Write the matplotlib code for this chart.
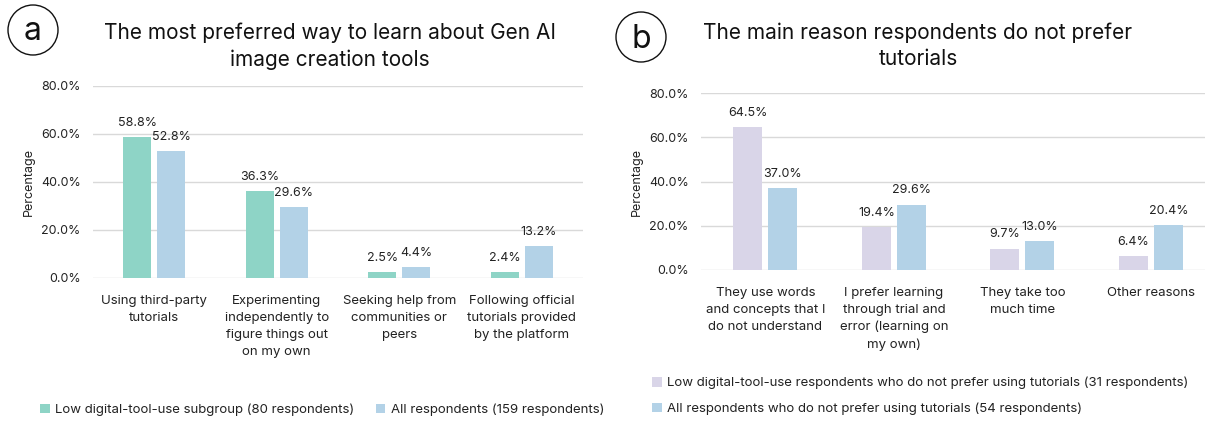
import matplotlib
matplotlib.use("Agg")
import matplotlib.pyplot as plt
import numpy as np
from matplotlib.patches import Ellipse

plt.rcParams['font.family'] = ['Inter', 'DejaVu Sans']

# ---- data ----
cats_a = ["Using third-party\ntutorials",
          "Experimenting\nindependently to\nfigure things out\non my own",
          "Seeking help from\ncommunities or\npeers",
          "Following official\ntutorials provided\nby the platform"]
low_a = [58.8, 36.3, 2.5, 2.4]
all_a = [52.8, 29.6, 4.4, 13.2]
label_low_a = "Low digital-tool-use subgroup (80 respondents)"
label_all_a = "All respondents (159 respondents)"
title_a = "The most preferred way to learn about Gen AI\nimage creation tools"

cats_b = ["They use words\nand concepts that I\ndo not understand",
          "I prefer learning\nthrough trial and\nerror (learning on\nmy own)",
          "They take too\nmuch time",
          "Other reasons"]
low_b = [64.5, 19.4, 9.7, 6.4]
all_b = [37.0, 29.6, 13.0, 20.4]
label_low_b = "Low digital-tool-use respondents who do not prefer using tutorials (31 respondents)"
label_all_b = "All respondents who do not prefer using tutorials (54 respondents)"
title_b = "The main reason respondents do not prefer\ntutorials"

yticks = [0, 20, 40, 60, 80]

C_GREEN = "#8ed4c6"
C_BLUE = "#b3d2e7"
C_LAV = "#d9d5e8"
C_TXT = "#222222"
C_GRID = "#d9d9d9"

W, H = 1210, 421
fig = plt.figure(figsize=(W / 100, H / 100), dpi=100)


def px_axes(left, right, y0, y80):
    return fig.add_axes([left / W, (H - y0) / H, (right - left) / W, (y0 - y80) / H])


def draw(ax, cats, v1, v2, c1, c2, l1, l2, bw, off, xmax):
    x = np.arange(len(cats))
    b1 = ax.bar(x - off, v1, bw, color=c1, label=l1, zorder=3)
    b2 = ax.bar(x + off, v2, bw, color=c2, label=l2, zorder=3)
    for bars, vals in ((b1, v1), (b2, v2)):
        for r, v in zip(bars, vals):
            ax.annotate(f"{v:.1f}%", (r.get_x() + r.get_width() / 2, v),
                        xytext=(0, 6), textcoords="offset points",
                        ha="center", va="bottom", fontsize=9, color=C_TXT)
    ax.set_ylim(0, 80)
    ax.set_xlim(-0.5, xmax)
    ax.set_yticks(yticks)
    ax.set_yticklabels([f"{t:.1f}%" for t in yticks], fontsize=9, color=C_TXT)
    ax.set_xticks(x)
    ax.set_xticklabels(cats, fontsize=9.5, color=C_TXT, linespacing=1.55, va="top")
    ax.tick_params(axis="both", length=0)
    ax.tick_params(axis="x", pad=12)
    ax.tick_params(axis="y", pad=9)
    ax.grid(axis="y", color=C_GRID, linewidth=1, zorder=0)
    for s in ax.spines.values():
        s.set_visible(False)
    ax.set_ylabel("Percentage", fontsize=9, color=C_TXT, labelpad=4)
    return b1, b2


# panel a
axa = px_axes(93, 583, 278, 86)
ha1, ha2 = draw(axa, cats_a, low_a, all_a, C_GREEN, C_BLUE, label_low_a, label_all_a,
                0.229, 0.139, 3.5)

# panel b
axb = px_axes(701, 1205, 270, 93)
hb1, hb2 = draw(axb, cats_b, low_b, all_b, C_LAV, C_BLUE, label_low_b, label_all_b,
                0.226, 0.136, 3.42)

# titles
fig.text(330 / W, 1 - 46 / H, title_a, ha="center", va="center", fontsize=15,
         color="#111111", linespacing=1.4)
fig.text(918 / W, 1 - 46 / H, title_b, ha="center", va="center", fontsize=15,
         color="#111111", linespacing=1.4)

# circle labels
for cx, cy, t in ((33, 30, "a"), (641, 37, "b")):
    e = Ellipse((cx / W, 1 - cy / H), 50 / W, 50 / H, transform=fig.transFigure,
                fill=False, edgecolor="#111111", linewidth=1)
    fig.add_artist(e)
    fig.text(cx / W, 1 - (cy + 2) / H, t, ha="center", va="center", fontsize=23,
             color="#111111")

# legends
fig.legend(handles=[ha1, ha2], labels=[label_low_a, label_all_a],
           loc="center left", bbox_to_anchor=(40 / W, 1 - 410 / H), ncol=2,
           frameon=False, fontsize=9.5, handlelength=0.75, handleheight=0.75,
           handletextpad=0.4, columnspacing=1.6, borderaxespad=0, borderpad=0,
           labelcolor=C_TXT)
fig.legend(handles=[hb1, hb2], labels=[label_low_b, label_all_b],
           loc="center left", bbox_to_anchor=(652 / W, 1 - 396 / H), ncol=1,
           frameon=False, fontsize=9.5, handlelength=0.75, handleheight=0.75,
           handletextpad=0.4, labelspacing=1.0, borderaxespad=0, borderpad=0,
           labelcolor=C_TXT)

fig.savefig("out.png", dpi=100)
